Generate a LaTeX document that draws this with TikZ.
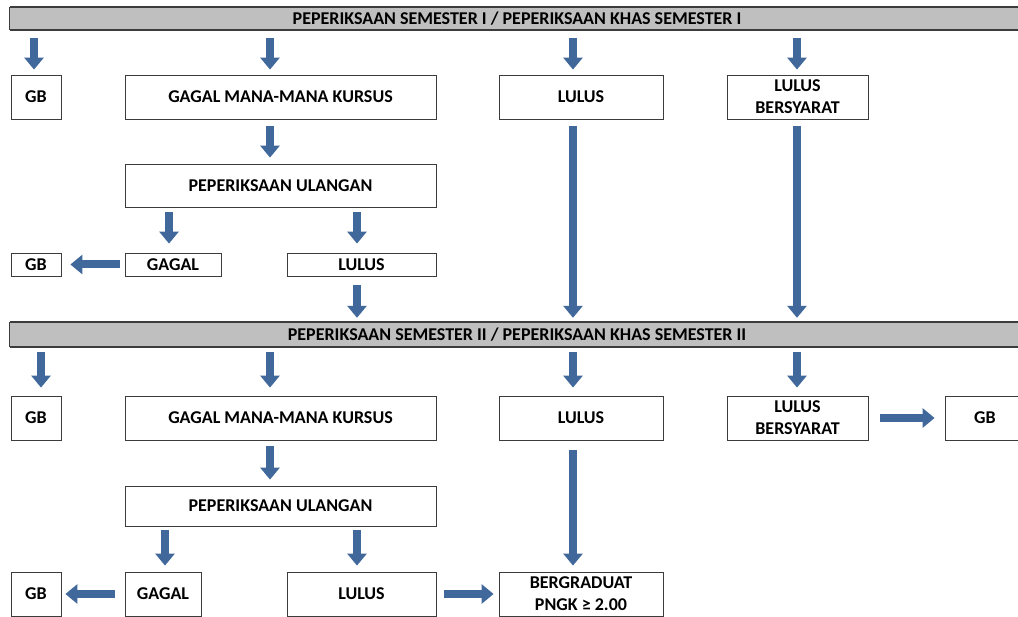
\documentclass[tikz,border=0pt]{standalone}
\usepackage{fontspec}
\setmainfont{Carlito}
\usetikzlibrary{arrows.meta}
\definecolor{arrblue}{RGB}{65,104,154}
\definecolor{bargray}{RGB}{191,191,191}
\definecolor{edge}{RGB}{60,60,60}
\begin{document}
\begin{tikzpicture}[x=1pt,y=-1pt,
  box/.style={draw=edge,line width=0.8pt,fill=white,inner sep=0pt,align=center,
    font=\bfseries\fontsize{18}{22}\selectfont},
  bar/.style={fill=bargray,draw=none,inner sep=0pt,
    font=\bfseries\fontsize{18}{22}\selectfont},
  arr/.style={draw=arrblue,line width=8pt,
    -{Triangle[width=19pt,length=12pt]}},
  gap/.style 2 args={shorten <=#1,shorten >=#2}]
\useasboundingbox (0,0) rectangle (1018,617);

% bars
\node[bar,minimum width=1014pt,minimum height=23pt] (bar1) at (517,18.5)
  {PEPERIKSAAN SEMESTER I / PEPERIKSAAN KHAS SEMESTER I};
\draw[edge,line width=1.5pt] (bar1.north west) -- (bar1.north east);
\draw[edge,line width=1.5pt] (bar1.south west) -- (bar1.south east);
\draw[edge,line width=1.2pt] (bar1.north west) -- (bar1.south west);
\node[bar,minimum width=1014pt,minimum height=25pt] (bar2) at (517,334.5)
  {PEPERIKSAAN SEMESTER II / PEPERIKSAAN KHAS SEMESTER II};
\draw[edge,line width=1.5pt] (bar2.north west) -- (bar2.north east);
\draw[edge,line width=1.5pt] (bar2.south west) -- (bar2.south east);
\draw[edge,line width=1.2pt] (bar2.north west) -- (bar2.south west);

% semester I boxes
\node[box,minimum width=50pt,minimum height=44pt] (gb1) at (36,97) {GB};
\node[box,minimum width=311pt,minimum height=44pt] (gmk1) at (280.5,97) {GAGAL MANA-MANA KURSUS};
\node[box,minimum width=164pt,minimum height=44pt] (l1) at (581,97) {LULUS};
\node[box,minimum width=141pt,minimum height=44pt] (lb1) at (797.5,97) {LULUS\\BERSYARAT};
\node[box,minimum width=311pt,minimum height=43pt] (pu1) at (280.5,185.5) {PEPERIKSAAN ULANGAN};
\node[box,minimum width=50pt,minimum height=23pt] (gb2) at (36,264.5) {GB};
\node[box,minimum width=96pt,minimum height=23pt] (g1) at (173,264.5) {GAGAL};
\node[box,minimum width=149pt,minimum height=23pt] (l1b) at (361.5,264.5) {LULUS};

% semester II boxes
\node[box,minimum width=50pt,minimum height=44pt] (gb3) at (36,418) {GB};
\node[box,minimum width=311pt,minimum height=44pt] (gmk2) at (280.5,418) {GAGAL MANA-MANA KURSUS};
\node[box,minimum width=164pt,minimum height=44pt] (l2) at (581,418) {LULUS};
\node[box,minimum width=141pt,minimum height=44pt] (lb2) at (797.5,418) {LULUS\\BERSYARAT};
\node[box,minimum width=80pt,minimum height=44pt] (gb4) at (985,418) {GB};
\node[box,minimum width=311pt,minimum height=40pt] (pu2) at (280.5,506) {PEPERIKSAAN ULANGAN};
\node[box,minimum width=50pt,minimum height=44pt] (gb5) at (36,594) {GB};
\node[box,minimum width=76pt,minimum height=44pt] (g2) at (163,594) {GAGAL};
\node[box,minimum width=149pt,minimum height=44pt] (l2b) at (361.5,594) {LULUS};
\node[box,minimum width=164pt,minimum height=44pt] (bg) at (581,594) {BERGRADUAT\\PNGK ≥ 2.00};

% arrow columns
\coordinate (c34) at (34,0);
\coordinate (c41) at (41,0);
\coordinate (c165) at (165,0);
\coordinate (c169) at (169,0);
\coordinate (c270) at (270,0);
\coordinate (c357) at (357,0);
\coordinate (c573) at (573,0);
\coordinate (c797) at (797,0);

% semester I arrows
\draw[arr,gap={8pt}{5pt}] (bar1.south -| c34) -- (gb1.north -| c34);
\draw[arr,gap={8pt}{5pt}] (bar1.south -| c270) -- (gmk1.north -| c270);
\draw[arr,gap={8pt}{5pt}] (bar1.south -| c573) -- (l1.north -| c573);
\draw[arr,gap={8pt}{5pt}] (bar1.south -| c797) -- (lb1.north -| c797);
\draw[arr,gap={7pt}{6pt}] (gmk1.south -| c270) -- (pu1.north -| c270);
\draw[arr,gap={5pt}{9pt}] (pu1.south -| c169) -- (g1.north -| c169);
\draw[arr,gap={5pt}{9pt}] (pu1.south -| c357) -- (l1b.north -| c357);
\draw[arr,gap={5pt}{9pt}] (g1.west) -- (gb2.east);
\draw[arr,gap={9pt}{4pt}] (l1b.south -| c357) -- (bar2.north -| c357);
\draw[arr,gap={7pt}{4pt}] (l1.south -| c573) -- (bar2.north -| c573);
\draw[arr,gap={7pt}{4pt}] (lb1.south -| c797) -- (bar2.north -| c797);

% semester II arrows
\draw[arr,gap={5pt}{8pt}] (bar2.south -| c41) -- (gb3.north -| c41);
\draw[arr,gap={5pt}{8pt}] (bar2.south -| c270) -- (gmk2.north -| c270);
\draw[arr,gap={5pt}{8pt}] (bar2.south -| c573) -- (l2.north -| c573);
\draw[arr,gap={5pt}{8pt}] (bar2.south -| c797) -- (lb2.north -| c797);
\draw[arr,gap={12pt}{10pt}] (lb2.east) -- (gb4.west);
\draw[arr,gap={6pt}{6pt}] (gmk2.south -| c270) -- (pu2.north -| c270);
\draw[arr,gap={4pt}{6pt}] (pu2.south -| c165) -- (g2.north -| c165);
\draw[arr,gap={4pt}{6pt}] (pu2.south -| c357) -- (l2b.north -| c357);
\draw[arr,gap={10pt}{4pt}] (g2.west) -- (gb5.east);
\draw[arr,gap={8pt}{5pt}] (l2b.east) -- (bg.west);
\draw[arr,gap={10pt}{6pt}] (l2.south -| c573) -- (bg.north -| c573);
\end{tikzpicture}
\end{document}
